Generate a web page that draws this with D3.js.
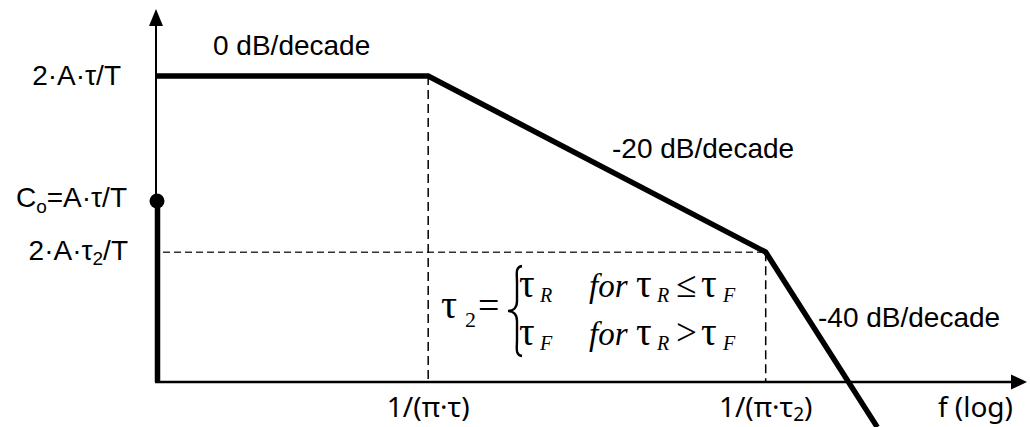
<!DOCTYPE html>
<html>
<head>
<meta charset="utf-8">
<script src="https://cdn.jsdelivr.net/npm/d3@7"></script>
<style>
  html, body { margin: 0; padding: 0; background: #fff; }
  svg { display: block; }
  .lbl { font-family: "Liberation Sans", Arial, sans-serif; font-size: 28px; fill: #000; }
  .tick { font-family: "Noto Sans", "Open Sans", sans-serif; font-size: 28px; fill: #000; }
  .eq { font-family: "Liberation Serif", "Times New Roman", serif; fill: #000; }
</style>
</head>
<body>
<svg id="chart" width="1030" height="427"></svg>
<script>
// Asymptotic magnitude plot (schematic, log-frequency axis in decade-like units)
const breakFreqs = [0, 1, 2.24, 2.65];          // start, 1/(πτ), 1/(πτ2), end of last asymptote
const breakLevels = [8.27, 8.27, 3.51, -1.22];  // asymptote level at each break
const dcLevel = 4.89;                            // C0 = A·τ/T
const cornerFreqs = [1, 2.24];
const cornerLevels = [8.27, 3.51];
const slopeLabels = ["0 dB/decade", "-20 dB/decade", "-40 dB/decade"];
const xTickLabels = ["1/(π·τ)", "1/(π·τ₂)"];
const xAxisTitle = "f (log)";

const svg = d3.select("#chart");
const x = d3.scaleLinear().domain([0, 3.2]).range([156, 1027]);
const y = d3.scaleLinear().domain([0, 10]).range([382, 12]);

// dashed guides at the corner frequencies
svg.append("line")
  .attr("x1", x(0) + 7).attr("x2", x(cornerFreqs[1]))
  .attr("y1", y(cornerLevels[1])).attr("y2", y(cornerLevels[1]))
  .attr("stroke", "#333").attr("stroke-width", 1.5).attr("stroke-dasharray", "7,4");
cornerFreqs.forEach((f, i) => {
  svg.append("line")
    .attr("x1", x(f)).attr("x2", x(f))
    .attr("y1", y(cornerLevels[i])).attr("y2", y(0))
    .attr("stroke", "#000").attr("stroke-width", 1.5).attr("stroke-dasharray", "9,5");
});

// axes with arrowheads
svg.append("line").attr("x1", x(0)).attr("x2", x(0))
  .attr("y1", y(0) + 1).attr("y2", y(10) + 14)
  .attr("stroke", "#000").attr("stroke-width", 2);
svg.append("path")
  .attr("d", `M${x(0)},${y(10) - 3} L${x(0) - 7},${y(10) + 14} L${x(0) + 7},${y(10) + 14} Z`)
  .attr("fill", "#000");
svg.append("line").attr("x1", x(0) - 1).attr("x2", x(3.2) - 14)
  .attr("y1", y(0)).attr("y2", y(0))
  .attr("stroke", "#000").attr("stroke-width", 2.5);
svg.append("path")
  .attr("d", `M${x(3.2)},${y(0)} L${x(3.2) - 16},${y(0) - 7.5} L${x(3.2) - 16},${y(0) + 7.5} Z`)
  .attr("fill", "#000");

// DC component: thick bar up to C0 with a dot
svg.append("line").attr("x1", x(0) + 1.5).attr("x2", x(0) + 1.5)
  .attr("y1", y(0)).attr("y2", y(dcLevel))
  .attr("stroke", "#000").attr("stroke-width", 5.5);
svg.append("circle").attr("cx", x(0) + 1).attr("cy", y(dcLevel)).attr("r", 7.5).attr("fill", "#000");

// asymptotic magnitude curve
const curve = d3.line().x((d, i) => x(breakFreqs[i])).y(d => y(d));
svg.append("path").datum(breakLevels)
  .attr("d", curve)
  .attr("fill", "none").attr("stroke", "#000")
  .attr("stroke-width", 5.5).attr("stroke-linejoin", "miter");

// slope annotations
const slopePos = [[213, 55], [612, 158], [818, 327]];
slopeLabels.forEach((t, i) => {
  svg.append("text").attr("class", "lbl")
    .attr("x", slopePos[i][0]).attr("y", slopePos[i][1]).text(t);
});

// level labels on the vertical axis
svg.append("text").attr("class", "lbl").attr("text-anchor", "end")
  .attr("x", 121).attr("y", y(cornerLevels[0]) + 9).text("2·A·τ/T");
const lv2 = svg.append("text").attr("class", "lbl").attr("text-anchor", "end")
  .attr("x", 127).attr("y", y(dcLevel) + 6);
lv2.append("tspan").text("C");
lv2.append("tspan").attr("font-size", 19).attr("dy", 6).text("o");
lv2.append("tspan").attr("dy", -6).text("=A·τ/T");
const lv3 = svg.append("text").attr("class", "lbl").attr("text-anchor", "end")
  .attr("x", 128).attr("y", y(cornerLevels[1]) + 8);
lv3.append("tspan").text("2·A·τ");
lv3.append("tspan").attr("font-size", 19).attr("dy", 5).text("2");
lv3.append("tspan").attr("dy", -5).text("/T");

// frequency labels under the axis
svg.append("text").attr("class", "tick").attr("text-anchor", "middle")
  .attr("x", x(cornerFreqs[0])).attr("y", 417).text(xTickLabels[0]);
const xt2 = svg.append("text").attr("class", "tick").attr("text-anchor", "middle")
  .attr("x", x(cornerFreqs[1])).attr("y", 417);
xt2.append("tspan").text("1/(π·τ");
xt2.append("tspan").attr("font-size", 19).attr("dy", 4).text("2");
xt2.append("tspan").attr("dy", -4).text(")");
svg.append("text").attr("class", "tick").attr("text-anchor", "end")
  .attr("x", 1013).attr("y", 417).text(xAxisTitle);

// piecewise definition of τ2
const eq = svg.append("g").attr("class", "eq");
const t2 = eq.append("text").attr("y", 318);
t2.append("tspan").attr("x", 441).attr("font-size", 40).text("τ");
t2.append("tspan").attr("x", 465).attr("font-size", 22).attr("dy", 9).text("2");
t2.append("tspan").attr("x", 478).attr("font-size", 38).attr("dy", -9).text("=");

// brace
const bx = 518, by0 = 266, by1 = 356, bm = (by0 + by1) / 2;
eq.append("path")
  .attr("d", `M${bx + 4},${by0} C${bx - 3},${by0 + 1} ${bx - 1},${by0 + 8} ${bx - 1},${by0 + 16}
              L${bx - 1},${bm - 10} C${bx - 1},${bm - 3} ${bx - 5},${bm} ${bx - 10},${bm}
              C${bx - 5},${bm} ${bx - 1},${bm + 3} ${bx - 1},${bm + 10}
              L${bx - 1},${by1 - 16} C${bx - 1},${by1 - 8} ${bx - 3},${by1 - 1} ${bx + 4},${by1}`)
  .attr("fill", "none").attr("stroke", "#000").attr("stroke-width", 2.4);

const rows = [
  { base: 297, a: "R", op: "≤" },
  { base: 345, a: "F", op: ">" }
];
rows.forEach(r => {
  const t = eq.append("text").attr("y", r.base).attr("font-size", 33);
  t.append("tspan").attr("x", 519).attr("font-size", 39).text("τ");
  t.append("tspan").attr("x", 540).attr("font-size", 20).attr("font-style", "italic").attr("dy", 5).text(r.a);
  t.append("tspan").attr("x", 589).attr("dy", -5).attr("font-style", "italic").text("for");
  t.append("tspan").attr("x", 636).attr("font-size", 39).text("τ");
  t.append("tspan").attr("x", 657).attr("font-size", 20).attr("font-style", "italic").attr("dy", 5).text("R");
  t.append("tspan").attr("x", 676).attr("font-size", 37).attr("dy", -5).text(r.op);
  t.append("tspan").attr("x", 701).attr("font-size", 39).text("τ");
  t.append("tspan").attr("x", 723).attr("font-size", 20).attr("font-style", "italic").attr("dy", 5).text("F");
});
</script>
</body>
</html>
